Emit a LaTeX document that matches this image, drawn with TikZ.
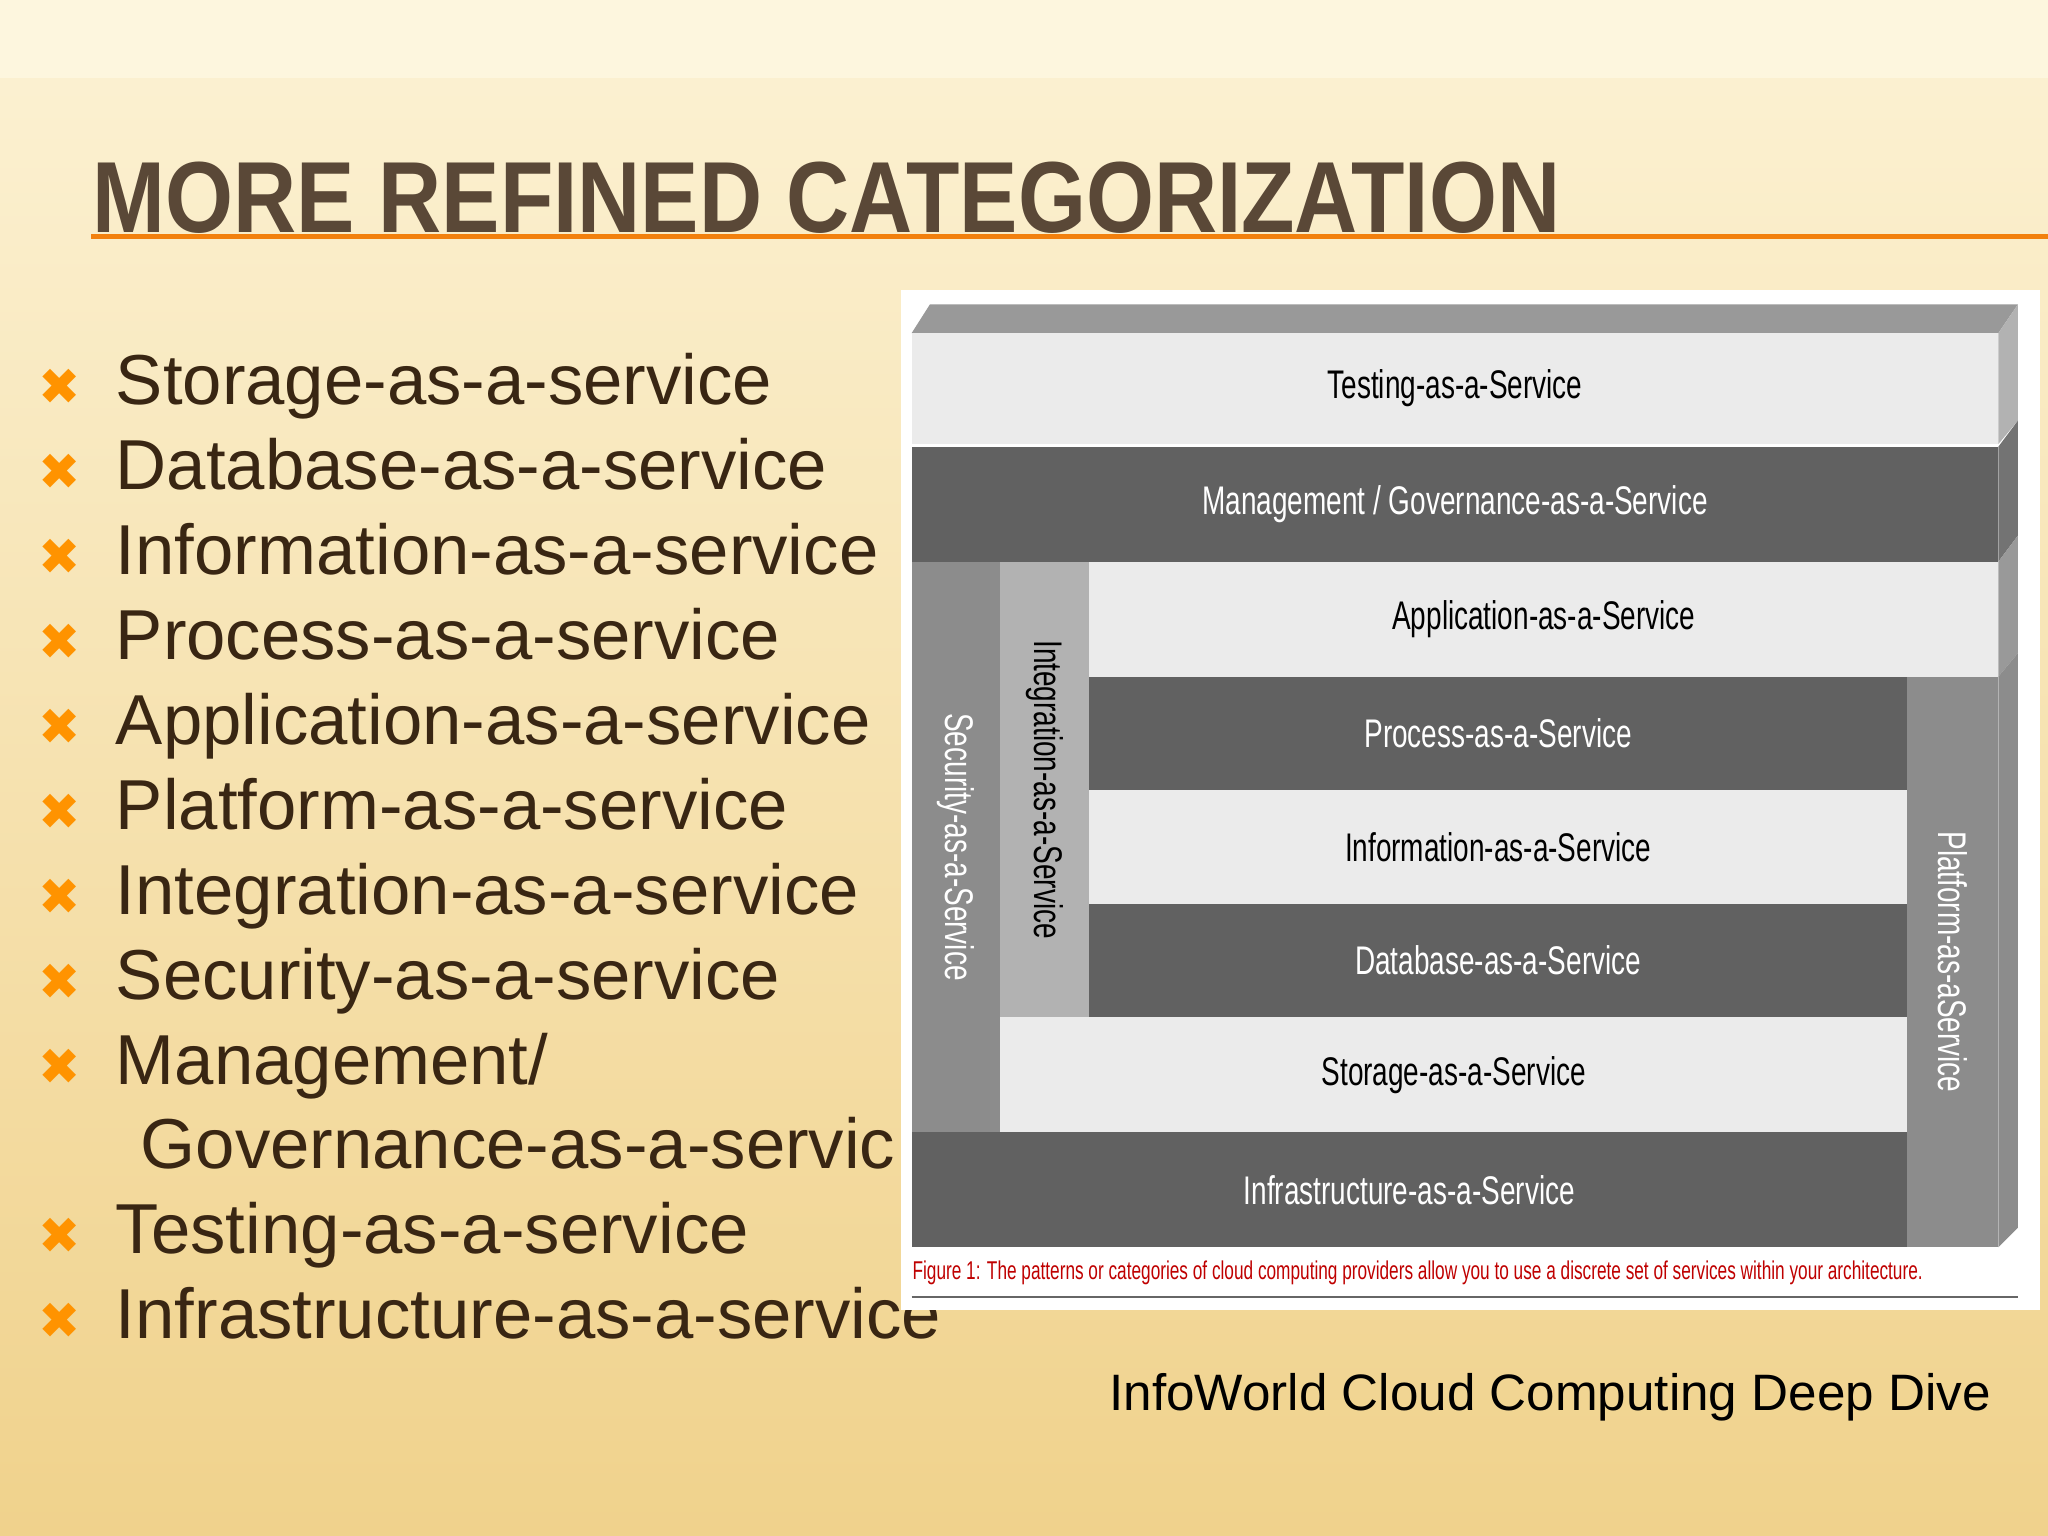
\documentclass[tikz,border=0pt]{standalone}
\usepackage{fontspec}
\setmainfont{Liberation Sans}
\newfontfamily\symf{DejaVu Sans}
\definecolor{bgtop}{RGB}{252,242,212}
\definecolor{bgbot}{RGB}{240,210,140}
\definecolor{bgband}{RGB}{253,246,222}
\definecolor{titlec}{RGB}{90,72,55}
\newcommand{\nar}[1]{\scalebox{0.7}[1]{#1}}
\begin{document}
\begin{tikzpicture}[x={(0.01cm,0)},y={(0,-0.01cm)},
  bul/.style={anchor=base west,text=black!70!brown,font=\fontsize{15.4}{18}\selectfont,inner sep=0},
  mk/.style={anchor=base,text=orange!85!yellow,font=\symf\fontsize{11}{12}\selectfont,inner sep=0},
  lt/.style={fill=black!8,draw=none},
  dk/.style={fill=black!62,draw=none},
  md/.style={fill=black!45,draw=none},
  lbl/.style={font=\fontsize{8.7}{10}\selectfont}]
\useasboundingbox (0,0) rectangle (1568,1176);
\shade[top color=bgtop,bottom color=bgbot] (0,0) rectangle (1568,1176);
\fill[bgband] (0,0) rectangle (1568,60);
\draw[orange!80!brown,line width=1pt] (70,181) -- (1568,181);
\node[anchor=base west,inner sep=0,text=titlec,font=\fontsize{22}{24}\selectfont\bfseries,xscale=0.865] (title) at (70,178) {MORE REFINED CATEGORIZATION};
\foreach \t [count=\i] in {Storage-as-a-service,Database-as-a-service,Information-as-a-service,Process-as-a-service,Application-as-a-service,Platform-as-a-service,Integration-as-a-service,Security-as-a-service,Management/} {
  \node[mk] (m\i) at (46,{245+65*\i}) {✖};
  \node[bul] (b\i) at (88,{245+65*\i}) {\t};
}
\node[bul] (b10) at (107,895) {Governance-as-a-servic};
\node[mk] (m11) at (46,960) {✖};
\node[bul] (b11) at (88,960) {Testing-as-a-service};
\node[mk] (m12) at (46,1025) {✖};
\node[bul] (b12) at (88,1025) {Infrastructure-as-a-service};
\fill[white] (690,222) rectangle (1562,1003);
\fill[black!40] (698,255) -- (712,233) -- (1545,233) -- (1530,255) -- cycle;
\fill[black!30] (1530,255) -- (1545,233) -- (1545,322) -- (1530,340) -- cycle;
\fill[black!55] (1530,342) -- (1545,322) -- (1545,410) -- (1530,430) -- cycle;
\fill[black!40] (1530,430) -- (1545,410) -- (1545,500) -- (1530,518) -- cycle;
\fill[black!45] (1530,518) -- (1545,500) -- (1545,940) -- (1530,955) -- cycle;
\path[lt] (698,255) rectangle (1530,340) node[midway,lbl] (test) {\nar{Testing-as-a-Service}};
\path[dk] (698,342) rectangle (1530,430) node[midway,lbl,text=white] (mgmt) {\nar{Management / Governance-as-a-Service}};
\path[md] (698,430) rectangle (766,867) node[midway,lbl,rotate=-90,text=white] (sec) {\nar{Security-as-a-Service}};
\path[fill=black!30] (766,430) rectangle (834,779) node[midway,lbl,rotate=-90] (integ) {\nar{Integration-as-a-Service}};
\path[lt] (834,430) rectangle (1530,518) node[midway,lbl] (app) {\nar{Application-as-a-Service}};
\path[dk] (834,518) rectangle (1460,605) node[midway,lbl,text=white] (proc) {\nar{Process-as-a-Service}};
\path[lt] (834,605) rectangle (1460,692) node[midway,lbl] (info) {\nar{Information-as-a-Service}};
\path[dk] (834,692) rectangle (1460,779) node[midway,lbl,text=white] (db) {\nar{Database-as-a-Service}};
\path[lt] (766,779) rectangle (1460,867) node[midway,lbl] (stor) {\nar{Storage-as-a-Service}};
\path[dk] (698,867) rectangle (1460,955) node[midway,lbl,text=white] (infra) {\nar{Infrastructure-as-a-Service}};
\path[md] (1460,518) rectangle (1530,955) node[midway,lbl,rotate=-90,text=white] (plat) {\nar{Platform-as-aService}};
\node[anchor=base west,inner sep=0,text=red!75!black,font=\fontsize{5.6}{6}\selectfont] (cap) at (698,980) {\scalebox{0.67}[1]{Figure 1: The patterns or categories of cloud computing providers allow you to use a discrete set of services within your architecture.}};
\draw[black!60,line width=0.6pt] (698,993) -- (1545,993);
\node[anchor=base east,inner sep=0,font=\fontsize{11.15}{13}\selectfont] (src) at (1525,1080) {InfoWorld Cloud Computing Deep Dive};
\end{tikzpicture}
\end{document}
